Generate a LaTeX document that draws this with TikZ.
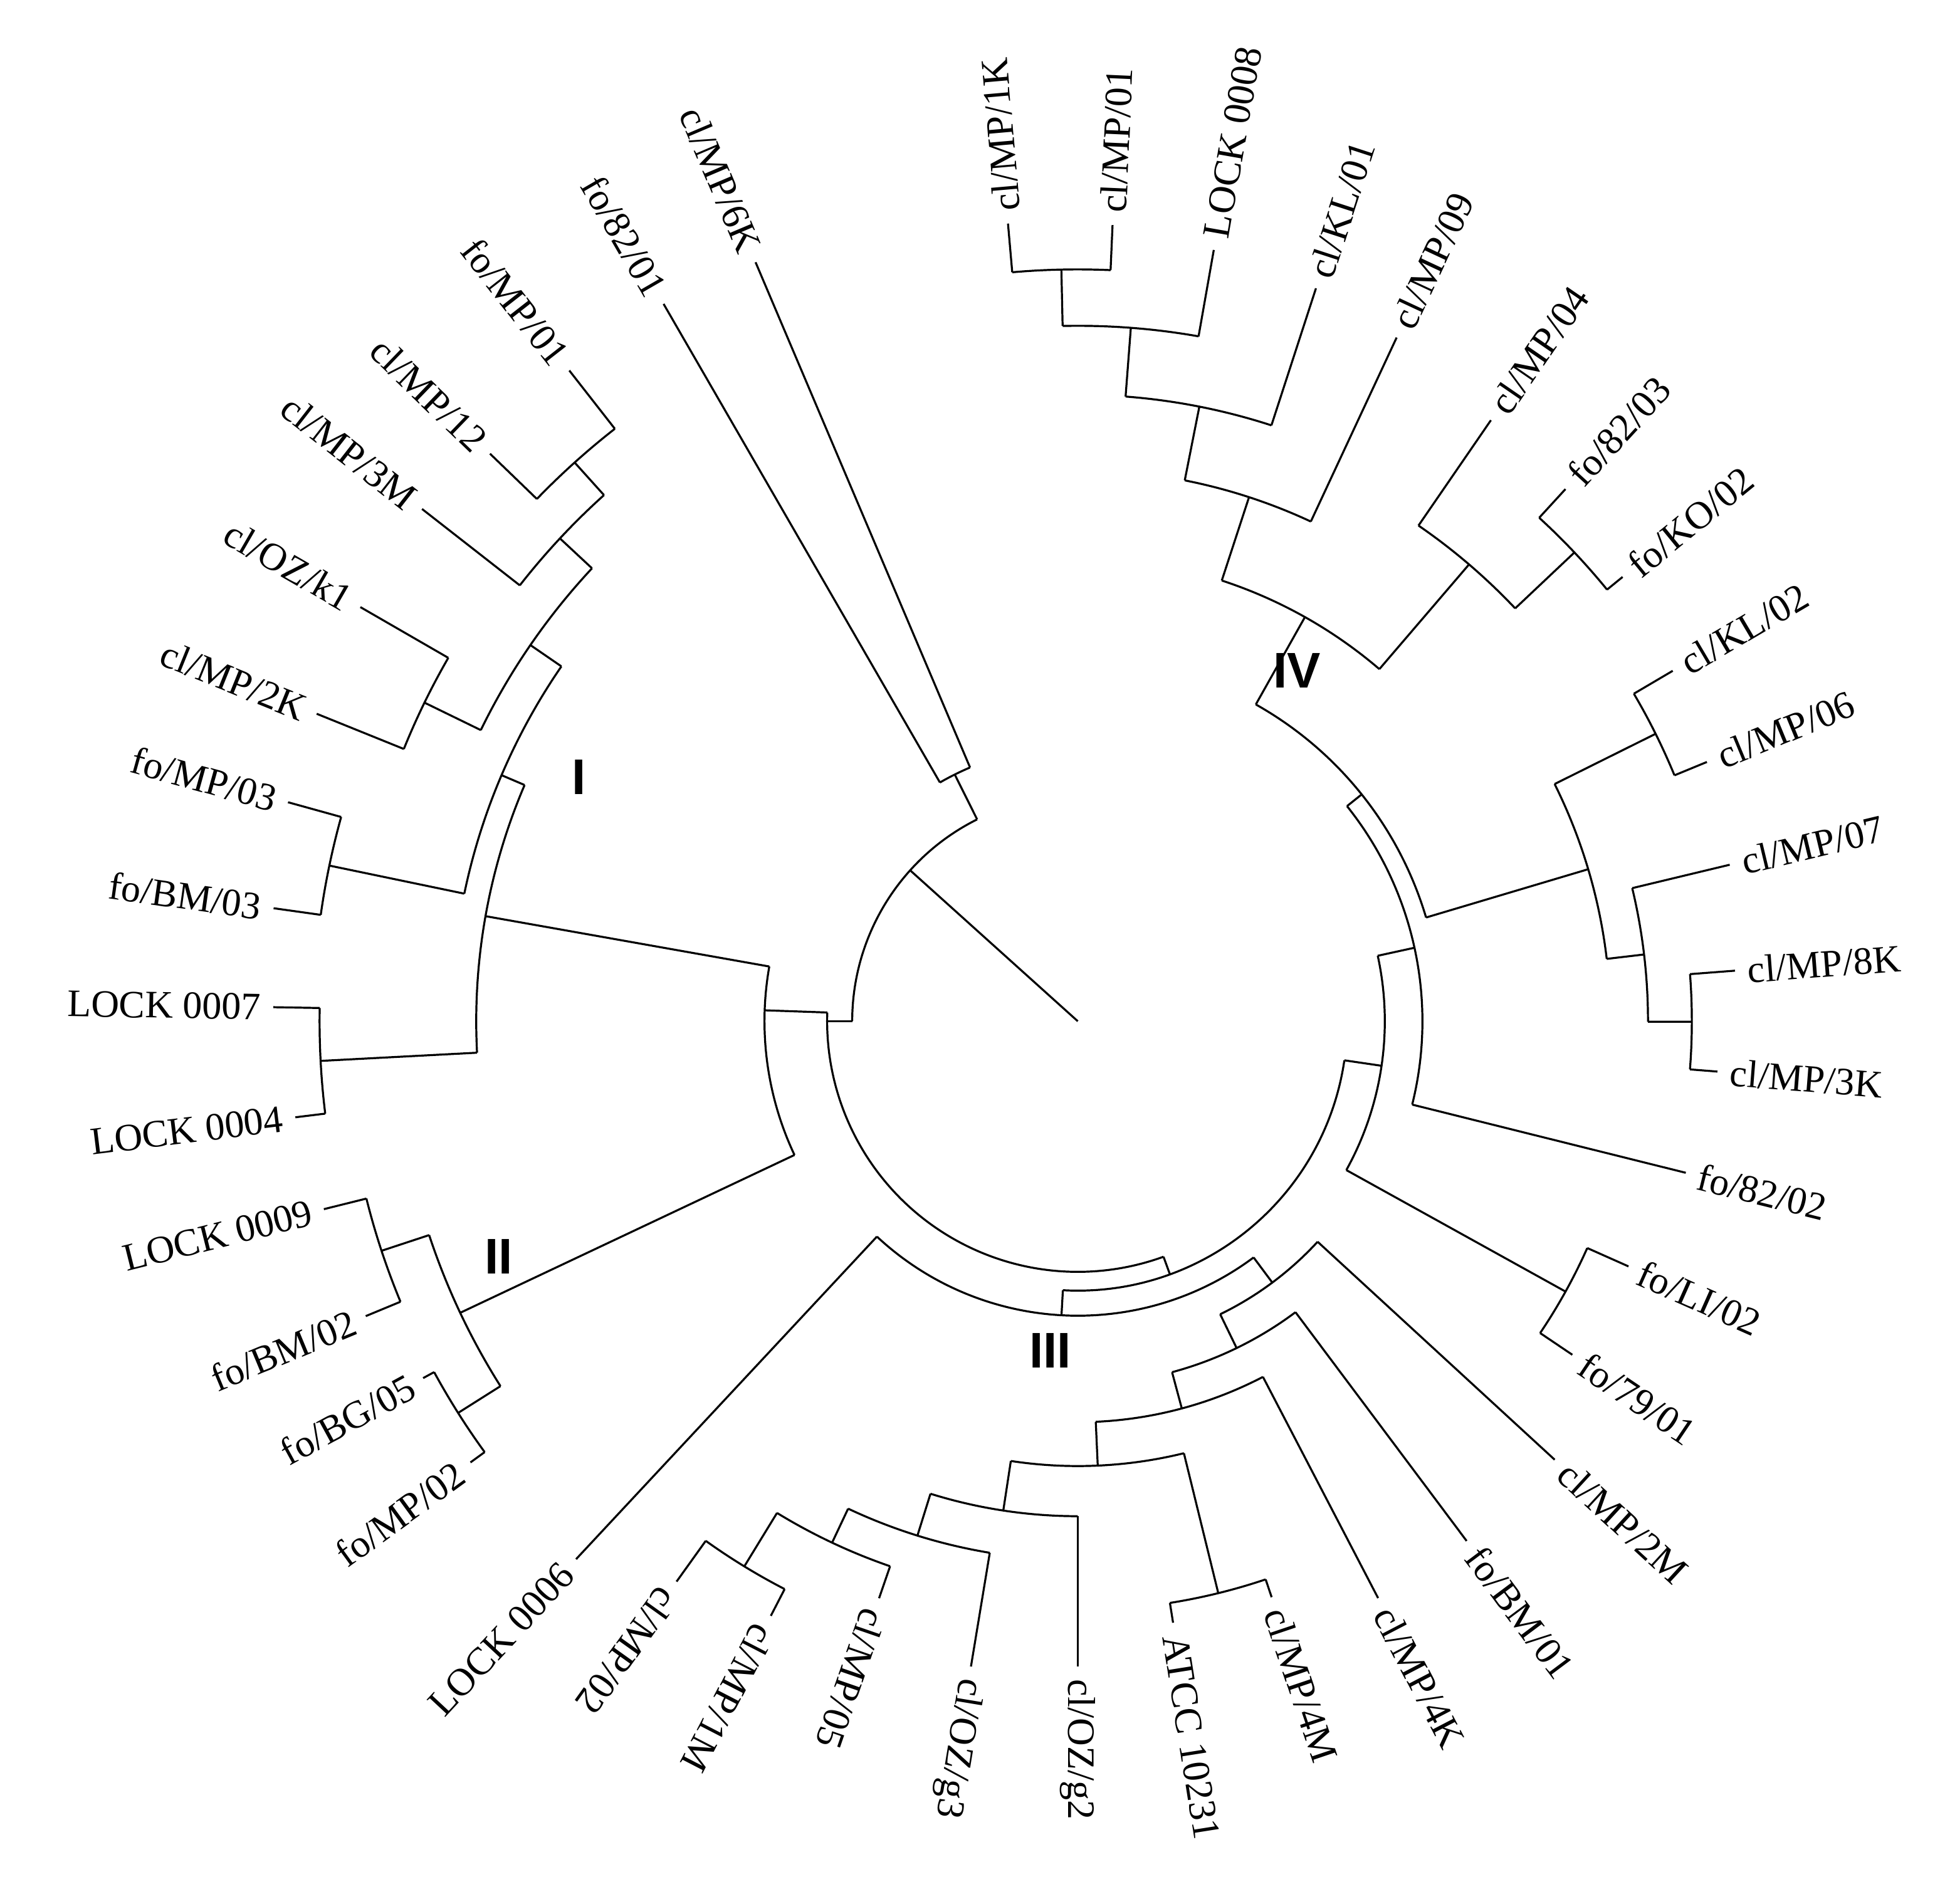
\documentclass[tikz,border=0pt]{standalone}
\usepackage{fontspec}
\setmainfont{Liberation Serif}
\setsansfont{Liberation Sans}
\makeatletter
\newcommand\lf[3]{\expandafter\xdef\csname a@#1\endcsname{#2}\expandafter\xdef\csname r@#1\endcsname{#3}}
\newcommand\jn[5][]{%
 \edef\ja{\csname a@#4\endcsname}\edef\jb{\csname a@#5\endcsname}%
 \edef\jra{\csname r@#4\endcsname}\edef\jrb{\csname r@#5\endcsname}%
 \def\tmp{#1}\ifx\tmp\@empty\pgfmathsetmacro\jm{(\ja+\jb)/2}\else\edef\jm{#1}\fi
 \expandafter\xdef\csname a@#2\endcsname{\jm}\expandafter\xdef\csname r@#2\endcsname{#3}%
 \draw[br] ([shift={(\ja:#3pt)}]C) arc[start angle=\ja,end angle=\jb,radius=#3pt];
 \draw[br] ([shift={(\ja:#3pt)}]C) -- ([shift={(\ja:\jra pt)}]C);
 \draw[br] ([shift={(\jb:#3pt)}]C) -- ([shift={(\jb:\jrb pt)}]C);
}
\newcommand\lab[2]{%
 \pgfmathsetmacro\la{\csname a@#1\endcsname}\pgfmathsetmacro\lr{\csname r@#1\endcsname+8}%
 \ifdim\la pt<230pt
  \pgfmathsetmacro\lrot{\la-180}\node[lbl,anchor=east,rotate=\lrot] (t#1) at ([shift={(\la:\lr pt)}]C) {#2};
 \else
  \node[lbl,anchor=west,rotate=\la] (t#1) at ([shift={(\la:\lr pt)}]C) {#2};
 \fi}
\makeatother
\begin{document}
\begin{tikzpicture}[x=1pt,y=1pt,
  br/.style={line width=1.6pt,black},
  lbl/.style={font=\fontsize{31}{33}\selectfont,inner sep=2pt},
  roman/.style={font=\sffamily\bfseries\fontsize{40}{42}\selectfont}]
\useasboundingbox (0,0) rectangle (1552,1519);
\coordinate (C) at (860,704);
% leaves
\lf{L6K}{113}{658}\lf{L8201}{120}{661}\lf{LFMP01}{128}{659}\lf{LMP12}{136}{652}
\lf{L3M}{142}{664}\lf{Lk1}{150}{661}\lf{L2K}{158}{655}\lf{LFMP03}{164.5}{654}
\lf{LFBM03}{172}{648}\lf{L0007}{179}{642}\lf{L0004}{187}{629}\lf{L0009}{194}{620}
\lf{LFBM02}{202.5}{615}\lf{LBG05}{208.6}{595}\lf{LFMP02}{216}{599}\lf{L0006}{227}{587}
\lf{LMP02}{234.4}{550}\lf{L1M}{242.7}{534}\lf{L05}{251}{487}\lf{Lg3}{260.6}{522}
\lf{Lg2}{270}{515}\lf{LATCC}{279}{486}\lf{L4M}{288.6}{485}\lf{L4K}{297.5}{519}
\lf{LBM01}{306.8}{518}\lf{L2M}{317.4}{517}\lf{L7901}{326}{476}\lf{LLI02}{336}{481}
\lf{L8202}{346}{500}\lf{L3K}{355.5}{512}\lf{L8K}{364.4}{526}\lf{L07}{373.5}{535}
\lf{L06}{382.4}{543}\lf{LKL02}{390.5}{551}\lf{LKO02}{399.2}{561}\lf{L8203}{407.5}{576}
\lf{L04}{415.5}{582}\lf{L09}{425}{602}\lf{LKL01}{432}{615}\lf{L0008}{440}{625}
\lf{LMP01}{447.5}{636}\lf{L1K}{455}{639}
% clade I
\jn{P}{600}{LFMP01}{LMP12}
\jn{Id}{565}{P}{L3M}
\jn{K}{580}{Lk1}{L2K}
\jn{Ib}{530}{Id}{K}
\jn{F3}{610}{LFMP03}{LFBM03}
\jn{Ia}{500}{Ib}{F3}
\jn{LL}{605}{L0007}{L0004}
\jn{Iroot}{480}{Ia}{LL}
% clade II
\jn{LB}{585}{L0009}{LFBM02}
\jn{BG}{585}{LBG05}{LFMP02}
\jn{IIroot}{545}{LB}{BG}
\jn[178]{XII}{250}{Iroot}{IIroot}
% clade III
\jn{T9}{510}{LMP02}{L1M}
\jn{T8}{460}{T9}{L05}
\jn{T7}{430}{T8}{Lg3}
\jn{T6}{470}{LATCC}{L4M}
\jn{T5}{395}{T7}{Lg2}
\jn{T4}{355}{T5}{T6}
\jn{T3}{320}{T4}{L4K}
\jn{T2}{290}{T3}{LBM01}
\jn{T1}{260}{T2}{L2M}
\jn{IIIroot}{235}{L0006}{T1}
% clade IV
\jn{LI}{445}{L7901}{LLI02}
\jn{M8}{490}{L3K}{L8K}
\jn{M3}{455}{M8}{L07}
\jn{KM}{515}{L06}{LKL02}
\jn{IVc}{425}{M3}{KM}
\jn{Uc}{545}{LKO02}{L8203}
\jn{Ub}{480}{Uc}{L04}
\jn{Ud}{600}{LMP01}{L1K}
\jn{Uc2}{555}{L0008}{Ud}
\jn{Ub2}{500}{LKL01}{Uc2}
\jn{Ua}{440}{L09}{Ub2}
\jn{IVup}{370}{Ub}{Ua}
\jn{IVb}{290}{IVc}{IVup}
\jn{IVa}{275}{L8202}{IVb}
\jn{IVroot}{245}{LI}{IVa}
\jn[290]{Y}{215}{IIIroot}{IVroot}
\jn[180]{M}{200}{XII}{Y}
\jn{P6}{220}{L6K}{L8201}
\jn[138]{R0}{180}{P6}{M}
\coordinate (stub) at ([shift={(138:180pt)}]C);
\draw[br] (C) -- (stub);
% labels
\lab{L6K}{cl/MP/6K}\lab{L8201}{fo/82/01}\lab{LFMP01}{fo/MP/01}\lab{LMP12}{cl/MP/12}
\lab{L3M}{cl/MP/3M}\lab{Lk1}{cl/OZ/k1}\lab{L2K}{cl/MP/2K}\lab{LFMP03}{fo/MP/03}
\lab{LFBM03}{fo/BM/03}\lab{L0007}{LOCK 0007}\lab{L0004}{LOCK 0004}\lab{L0009}{LOCK 0009}
\lab{LFBM02}{fo/BM/02}\lab{LBG05}{fo/BG/05}\lab{LFMP02}{fo/MP/02}\lab{L0006}{LOCK 0006}
\lab{LMP02}{cl/MP/02}\lab{L1M}{cl/MP/1M}\lab{L05}{cl/MP/05}\lab{Lg3}{cl/OZ/g3}
\lab{Lg2}{cl/OZ/g2}\lab{LATCC}{ATCC 10231}\lab{L4M}{cl/MP/4M}\lab{L4K}{cl/MP/4K}
\lab{LBM01}{fo/BM/01}\lab{L2M}{cl/MP/2M}\lab{L7901}{fo/79/01}\lab{LLI02}{fo/LI/02}
\lab{L8202}{fo/82/02}\lab{L3K}{cl/MP/3K}\lab{L8K}{cl/MP/8K}\lab{L07}{cl/MP/07}
\lab{L06}{cl/MP/06}\lab{LKL02}{cl/KL/02}\lab{LKO02}{fo/KO/02}\lab{L8203}{fo/82/03}
\lab{L04}{cl/MP/04}\lab{L09}{cl/MP/09}\lab{LKL01}{cl/KL/01}\lab{L0008}{LOCK 0008}
\lab{LMP01}{cl/MP/01}\lab{L1K}{cl/MP/1K}
\node[roman] (rI) at (462,899) {I};
\node[roman] (rII) at (398,516) {II};
\node[roman] (rIII) at (838,441) {III};
\node[roman] (rIV) at (1035,984) {IV};
\end{tikzpicture}
\end{document}
